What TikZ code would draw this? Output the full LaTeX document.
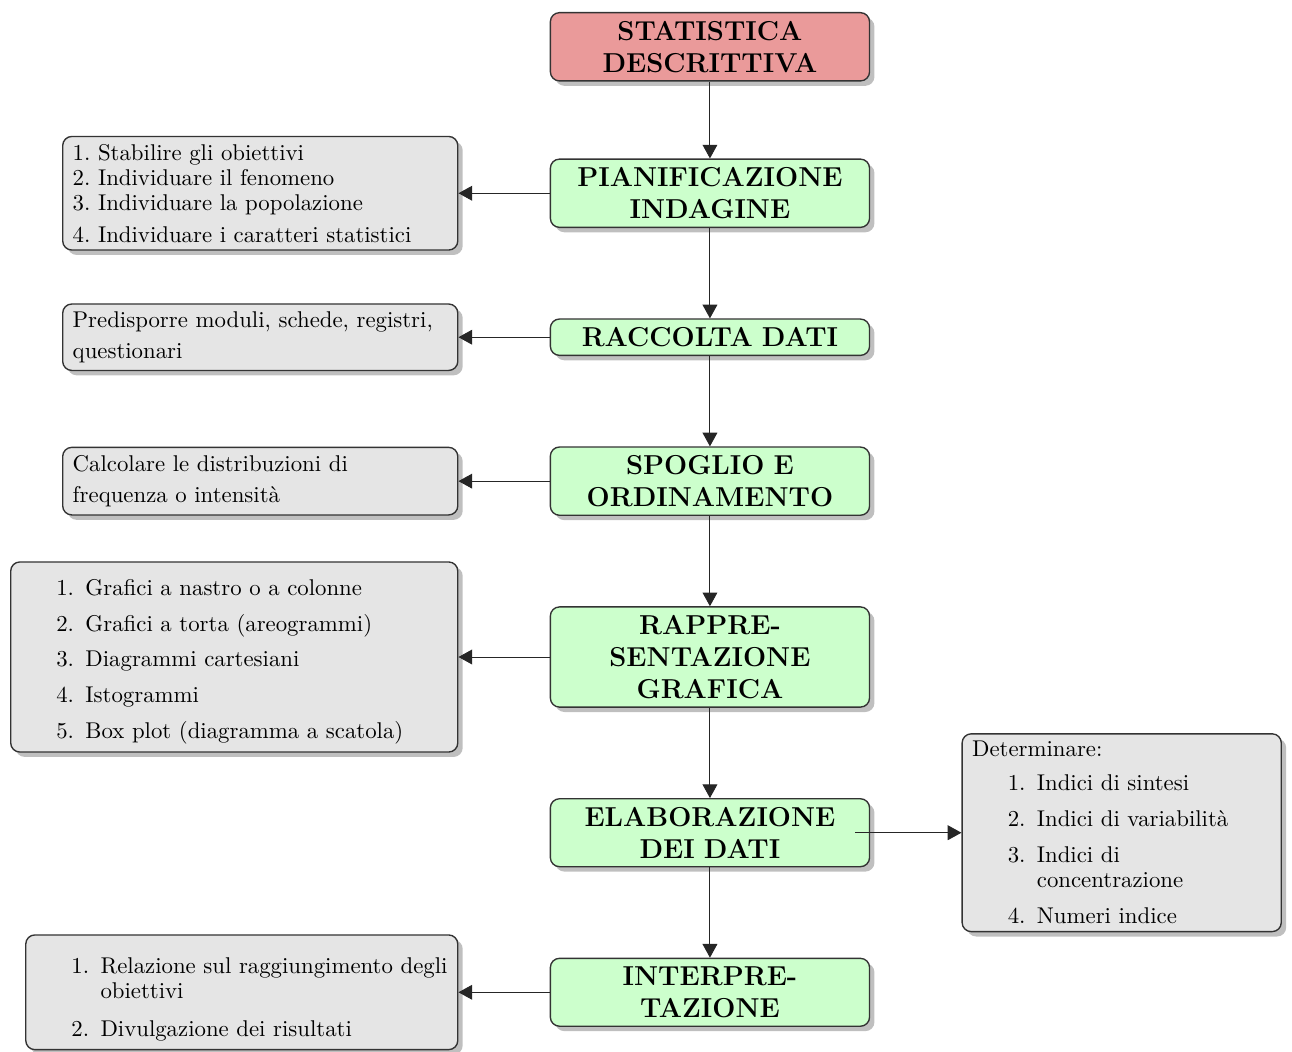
\documentclass[tikz,border=0pt]{standalone}
\usepackage{fontspec}
\usetikzlibrary{positioning,shadows,arrows.meta}

\definecolor{rosso}{RGB}{234,154,154}
\newcommand{\voce}[2]{\mbox{\makebox[28.4pt][r]{#1\hspace{5pt}}#2}}
\newcommand{\rientro}{\hspace*{28.4pt}}

\tikzset{
  fase/.style={draw=black!80, line width=0.6pt, fill=green!20, rounded corners=4pt,
    drop shadow, text width=133pt, inner xsep=3.5pt, inner ysep=3.7pt,
    align=center, font=\large\bfseries},
  titolo/.style={fase, fill=rosso},
  nota/.style={draw=black!80, line width=0.6pt, fill=gray!20, rounded corners=4pt,
    drop shadow, inner xsep=4.4pt, inner ysep=3.33pt, align=left,
    font=\fontsize{10}{11}\selectfont},
  freccia/.style={-{Triangle[length=6pt,width=6.5pt]}, line width=0.4pt, draw=black!85},
}

\begin{document}
\begin{tikzpicture}
  % fasi
  \node[titolo] (stat) {STATISTICA\\DESCRITTIVA};
  \node[fase, below=33.7pt of stat] (pian) {PIANIFICAZIONE\\INDAGINE};
  \node[fase, below=39.6pt of pian] (racc) {RACCOLTA DATI};
  \node[fase, below=39.6pt of racc] (spog) {SPOGLIO E\\ORDINAMENTO};
  \node[fase, below=39.6pt of spog] (rapp) {RAPPRE-\\SENTAZIONE\\GRAFICA};
  \node[fase, below=39.6pt of rapp] (elab) {ELABORAZIONE\\DEI DATI};
  \node[fase, below=39.6pt of elab] (inte) {INTERPRE-\\TAZIONE};

  % note
  \node[nota, text width=164.5pt, left=40pt of pian] (obb)
    {1.\ Stabilire gli obiettivi\\2.\ Individuare il fenomeno\\3.\ Individuare la popolazione\\[3pt]4.\ Individuare i caratteri statistici};
  \node[nota, text width=164.5pt, left=40pt of racc] (mod)
    {Predisporre moduli, schede, registri,\\[2.6pt]questionari};
  \node[nota, text width=164.5pt, left=40pt of spog] (distr)
    {Calcolare le distribuzioni di\\[3pt]frequenza o intensità};
  \node[nota, text width=187.3pt, left=40pt of rapp] (graf)
    {\rule{0pt}{11.2pt}\voce{1.}{Grafici a nastro o a colonne}\\[4.75pt]
     \voce{2.}{Grafici a torta (areogrammi)}\\[4.75pt]
     \voce{3.}{Diagrammi cartesiani}\\[4.75pt]
     \voce{4.}{Istogrammi}\\[4.75pt]
     \voce{5.}{Box plot (diagramma a scatola)}};
  \node[nota, text width=131.2pt, right=40pt of elab] (indici)
    {Determinare:\\[3.9pt]
     \voce{1.}{Indici di sintesi}\\[4.75pt]
     \voce{2.}{Indici di variabilità}\\[4.75pt]
     \voce{3.}{Indici di}\\
     \rientro concentrazione\\[4.75pt]
     \voce{4.}{Numeri indice}};
  \node[nota, text width=180.7pt, minimum height=50.3pt, left=40pt of inte] (concl)
    {\rule{0pt}{13pt}\voce{1.}{Relazione sul raggiungimento degli}\\
     \rientro obiettivi\\[5.6pt]
     \voce{2.}{Divulgazione dei risultati}};

  % frecce
  \draw[freccia] (stat) -- (pian);
  \foreach \a/\b in {pian/racc, racc/spog, spog/rapp, rapp/elab, elab/inte}
    \draw[freccia] (\a) -- (\b);
  \foreach \a/\b in {pian/obb, racc/mod, spog/distr, rapp/graf, inte/concl}
    \draw[freccia] (\a) -- (\b);
  \draw[freccia] ([xshift=-6.6pt]elab.east) -- (indici);

  % margini
  \coordinate (nw) at (graf.west |- stat.north);
  \coordinate (se) at (indici.east |- concl.south);
  \pgfresetboundingbox
  \path[use as bounding box] ([shift={(-4.4pt,5.25pt)}]nw) rectangle ([shift={(4.4pt,-0.4pt)}]se);
\end{tikzpicture}
\end{document}
